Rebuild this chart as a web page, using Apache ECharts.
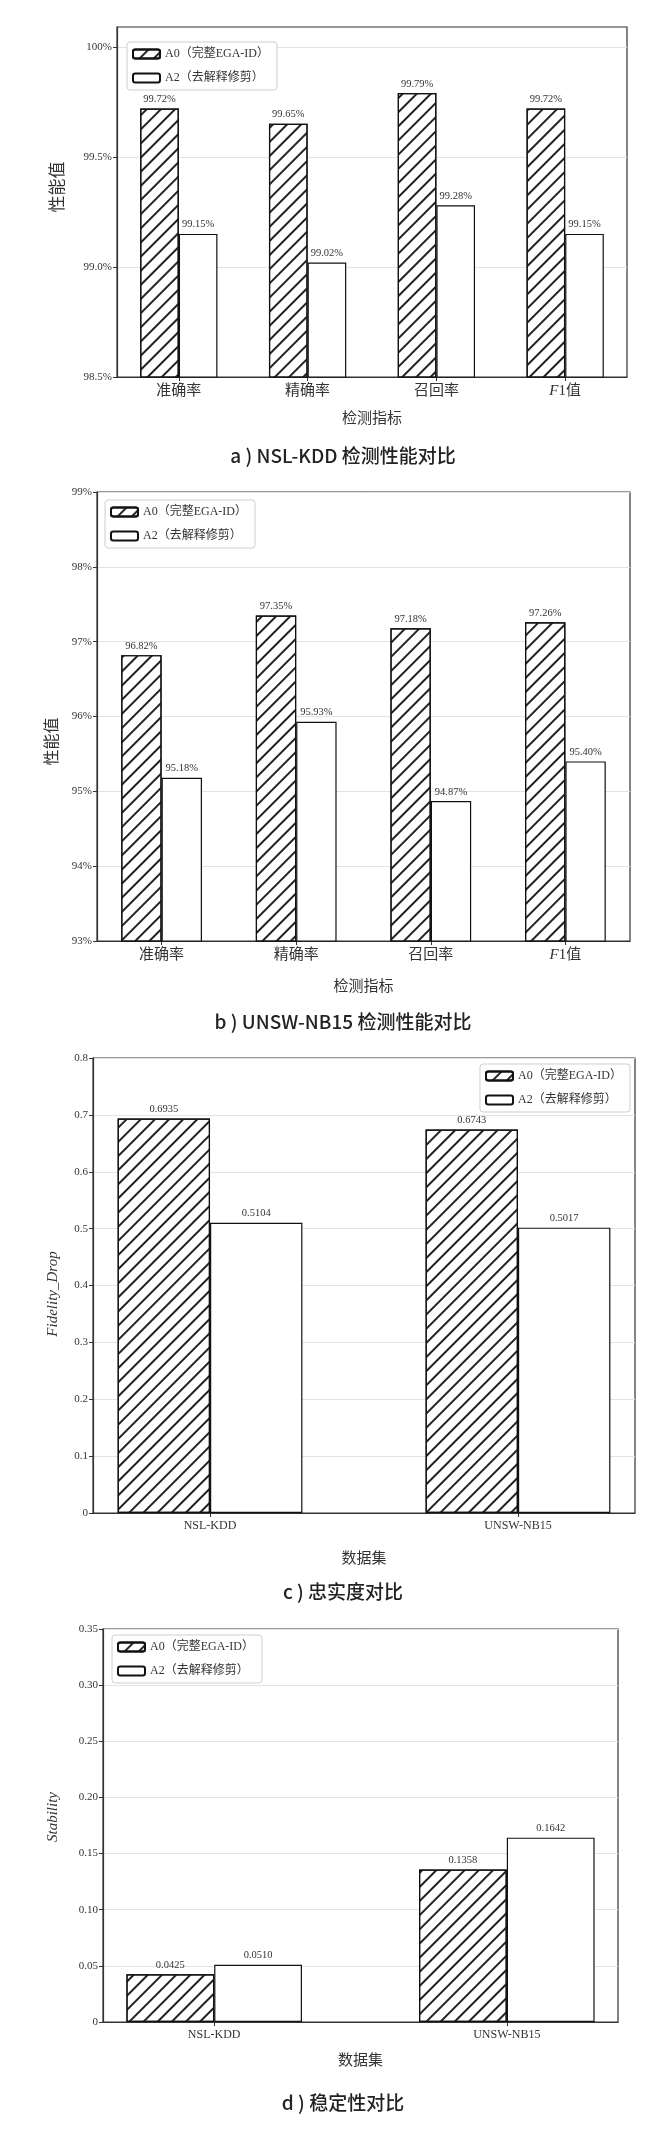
<!DOCTYPE html>
<html>
<head>
<meta charset="utf-8">
<script src="https://cdn.jsdelivr.net/npm/echarts@6/dist/echarts.min.js"></script>
<style>
html,body{margin:0;padding:0;background:#fff;}
#ChartMain{width:669px;height:2135px;}
</style>
</head>
<body>
<div id="ChartMain"></div>
<script>
// 数据
var metricNames = ['准确率', '精确率', '召回率', 'F1值'];
var datasetNames = ['NSL-KDD', 'UNSW-NB15'];
var seriesNames = ['A0（完整EGA-ID）', 'A2（去解释修剪）'];

var nslA0 = [99.72, 99.65, 99.79, 99.72];
var nslA2 = [99.15, 99.02, 99.28, 99.15];
var unswA0 = [96.82, 97.35, 97.18, 97.26];
var unswA2 = [95.18, 95.93, 94.87, 95.40];
var fidA0 = [0.6935, 0.6743];
var fidA2 = [0.5104, 0.5017];
var stabA0 = [0.0425, 0.1358];
var stabA2 = [0.0510, 0.1642];

var ticksA = [98.5, 99.0, 99.5, 100];
var ticksB = [93, 94, 95, 96, 97, 98, 99];

var captions = ['a ) NSL-KDD 检测性能对比', 'b ) UNSW-NB15 检测性能对比', 'c ) 忠实度对比', 'd ) 稳定性对比'];

var SERIF = "'Liberation Serif','Noto Sans CJK SC',serif";
var hatch = {symbol: 'rect', symbolSize: 1, color: '#222', dashArrayX: [1, 0], dashArrayY: [1.2, 7.6], rotation: -Math.PI / 4};

function toPairs(arr) {
    return arr.map(function (v, i) { return [i, v]; });
}

function makeGrid(left, top, right, height) {
    return {left: left, top: top, right: right, height: height, show: true, borderColor: '#333', borderWidth: 1.2, containLabel: false};
}

function makeX(idx, names, min, max, title, gap, catSize) {
    var idxs = names.map(function (n, i) { return i; });
    return {
        type: 'value', gridIndex: idx, min: min, max: max,
        name: title, nameLocation: 'middle', nameGap: gap,
        nameTextStyle: {fontFamily: SERIF, fontSize: 15, color: '#333'},
        axisLine: {show: true, onZero: false, lineStyle: {color: '#333', width: 1.2}},
        axisTick: {show: true, customValues: idxs, length: 4, lineStyle: {color: '#333'}},
        axisLabel: {
            customValues: idxs, margin: 7, fontFamily: SERIF, fontSize: catSize, color: '#333',
            formatter: function (v) {
                var s = names[Math.round(v)];
                if (s === 'F1值') return '{i|F}1值';
                return s;
            },
            rich: {i: {fontFamily: SERIF, fontStyle: 'italic', fontSize: catSize, color: '#333'}}
        },
        splitLine: {show: false}
    };
}

function makeY(idx, min, max, interval, ticks, fmt, title, gap, italic, size, pad) {
    var y = {
        type: 'value', gridIndex: idx, min: min, max: max, interval: interval,
        name: title, nameLocation: 'middle', nameGap: gap,
        nameTextStyle: {fontFamily: SERIF, fontSize: size, fontStyle: italic ? 'italic' : 'normal', color: '#333', padding: pad},
        axisLine: {show: true, onZero: false, lineStyle: {color: '#333', width: 1.2}},
        axisTick: {show: true, length: 4, lineStyle: {color: '#333'}},
        axisLabel: {margin: 5, fontFamily: SERIF, fontSize: 11, color: '#333', formatter: fmt},
        splitLine: {show: true, lineStyle: {color: '#e3e3e3', width: 1}}
    };
    if (ticks) {
        y.axisTick.customValues = ticks;
        y.axisLabel.customValues = ticks;
    }
    return y;
}

function makeBar(name, idx, data, decal, fmt) {
    var style = {color: '#fff', borderColor: '#111', borderWidth: 1.2};
    if (decal) style.decal = decal;
    return {
        name: name, type: 'bar', xAxisIndex: idx, yAxisIndex: idx,
        data: toPairs(data), barWidth: '30%', barGap: '0%',
        itemStyle: style,
        label: {show: true, position: 'top', distance: 4, fontFamily: SERIF, fontSize: 10.5, color: '#333', formatter: function (p) { return fmt(p.value[1]); }},
        emphasis: {disabled: true}, animation: false
    };
}

function makeLegend(left, top) {
    return {
        data: seriesNames, orient: 'vertical', left: left, top: top,
        itemWidth: 27, itemHeight: 9, itemGap: 12, padding: [6, 8, 6, 5],
        borderColor: '#cfcfcf', borderWidth: 1, borderRadius: 3, backgroundColor: '#fff',
        textStyle: {fontFamily: SERIF, fontSize: 12, color: '#333'},
        selectedMode: false
    };
}

function makeCaption(text, top) {
    return {text: text, left: 338, top: top, textAlign: 'center',
        textStyle: {fontFamily: "'Noto Sans CJK SC',sans-serif", fontSize: 19, fontWeight: 500, color: '#222'}};
}

function GenerateChart() {
    var chart = echarts.init(document.getElementById('ChartMain'), null, {renderer: 'canvas'});
    var pct2 = function (v) { return v.toFixed(2) + '%'; };
    var dec4 = function (v) { return v.toFixed(4); };
    var option = {
        backgroundColor: '#fff',
        animation: false,
        title: [
            makeCaption(captions[0], 441),
            makeCaption(captions[1], 1007),
            makeCaption(captions[2], 1577),
            makeCaption(captions[3], 2088)
        ],
        legend: [makeLegend(127, 42), makeLegend(105, 500), makeLegend(480, 1064), makeLegend(112, 1635)],
        grid: [
            makeGrid(117, 27, 42, 350),
            makeGrid(97, 492, 39, 449),
            makeGrid(93, 1058, 34, 455),
            makeGrid(103, 1629, 51, 393)
        ],
        xAxis: [
            makeX(0, metricNames, -0.48, 3.48, '检测指标', 35, 15),
            makeX(1, metricNames, -0.48, 3.48, '检测指标', 39, 15),
            makeX(2, datasetNames, -0.38, 1.38, '数据集', 39, 12),
            makeX(3, datasetNames, -0.38, 1.38, '数据集', 32, 12)
        ],
        yAxis: [
            makeY(0, 98.5, 100.09, 0.25, ticksA, function (v) { return v === 100 ? '100%' : v.toFixed(1) + '%'; }, '性能值', 50, false, 17, [0, 0, 0, 30]),
            makeY(1, 93, 99, 1, ticksB, function (v) { return v + '%'; }, '性能值', 31, false, 16, [0, 50, 0, 0]),
            makeY(2, 0, 0.8, 0.1, null, function (v) { return v === 0 ? '0' : v.toFixed(1); }, 'Fidelity_Drop', 32, true, 15, [0, 17, 0, 0]),
            makeY(3, 0, 0.35, 0.05, null, function (v) { return v === 0 ? '0' : v.toFixed(2); }, 'Stability', 42, true, 15, [0, 0, 0, 17])
        ],
        series: [
            makeBar(seriesNames[0], 0, nslA0, hatch, pct2),
            makeBar(seriesNames[1], 0, nslA2, null, pct2),
            makeBar(seriesNames[0], 1, unswA0, hatch, pct2),
            makeBar(seriesNames[1], 1, unswA2, null, pct2),
            makeBar(seriesNames[0], 2, fidA0, hatch, dec4),
            makeBar(seriesNames[1], 2, fidA2, null, dec4),
            makeBar(seriesNames[0], 3, stabA0, hatch, dec4),
            makeBar(seriesNames[1], 3, stabA2, null, dec4)
        ]
    };
    chart.setOption(option);
}

GenerateChart();
</script>
</body>
</html>
